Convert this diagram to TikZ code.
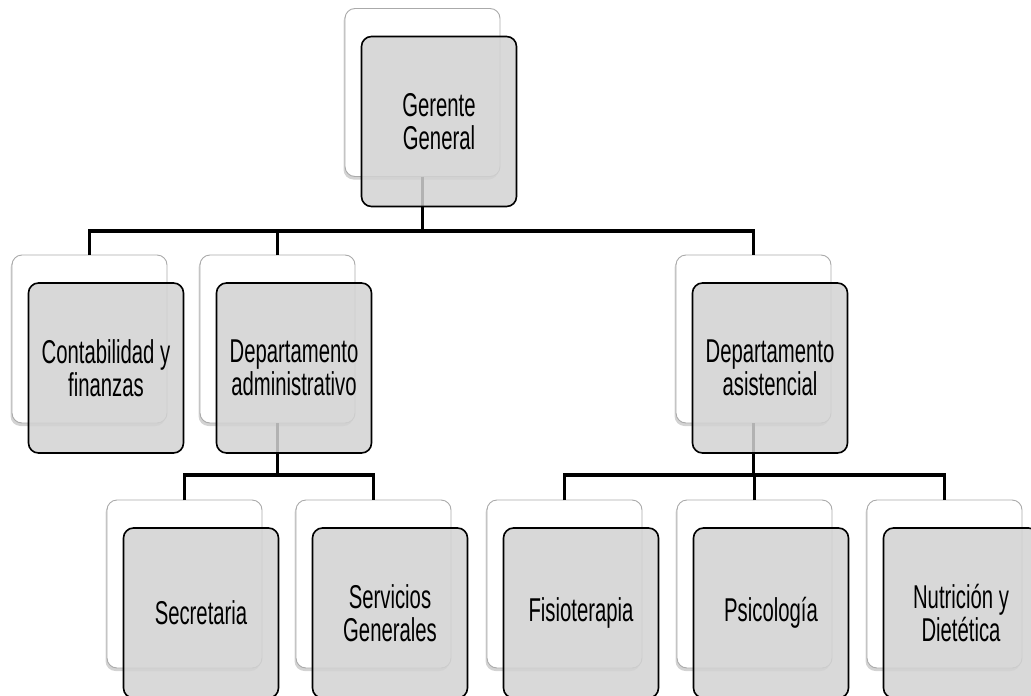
\documentclass[tikz,border=0pt]{standalone}
\usepackage{fontspec}
\setmainfont[FakeStretch=0.615]{Liberation Sans}
\usetikzlibrary{shadows}
\definecolor{frontgray}{RGB}{210,210,210}
\definecolor{backedge}{RGB}{170,170,170}
\tikzset{
  backbox/.style={rectangle, rounded corners=10pt, draw=backedge, line width=0.9pt,
    fill=white, minimum width=155pt, minimum height=168pt, inner sep=0pt, outer sep=0pt,
    drop shadow={opacity=0.35, shadow xshift=-1.5pt, shadow yshift=-3pt}},
  frontbox/.style={rectangle, rounded corners=10pt, draw=black, line width=1.6pt,
    fill=frontgray, fill opacity=0.85, text opacity=1, minimum width=155pt, minimum height=170pt,
    inner sep=0pt, outer sep=0pt, align=center,
    font=\fontsize{33pt}{32.5pt}\selectfont},
  conn/.style={draw=black, line width=3.6pt, line join=miter}
}
\begin{document}
\begin{tikzpicture}[x=1pt,y=-1pt]
\useasboundingbox (0,0) rectangle (1031,696);
% back boxes
\node[backbox] (gb) at (422.5,92.5) {};
\node[backbox] (cb) at (89.5,339) {};
\node[backbox] (ab) at (277.5,339) {};
\node[backbox] (sb) at (753.5,339) {};
\node[backbox] (secb) at (184.5,584) {};
\node[backbox] (serb) at (373.5,584) {};
\node[backbox] (fisb) at (564.5,584) {};
\node[backbox] (psib) at (754.5,584) {};
\node[backbox] (nutb) at (944.5,584) {};
% bus levels
\coordinate (bus1) at (0,231);
\coordinate (bus2) at (0,475);
% connectors
\draw[conn] (gb.south) -- (gb.south |- bus1);
\draw[conn] (cb.north) |- (sb.north |- bus1) -- (sb.north);
\draw[conn] (ab.north) -- (ab.north |- bus1);
\draw[conn] (ab.south) -- (ab.south |- bus2);
\draw[conn] (secb.north) |- (serb.north |- bus2) -- (serb.north);
\draw[conn] (sb.south) -- (sb.south |- bus2);
\draw[conn] (fisb.north) |- (nutb.north |- bus2) -- (nutb.north);
\draw[conn] (psib.north) -- (psib.north |- bus2);
% front boxes
\node[frontbox] (gf) at ([shift={(16.5,29)}]gb.center) {Gerente\\General};
\node[frontbox] (cf) at ([shift={(16.5,29)}]cb.center) {Contabilidad y\\finanzas};
\node[frontbox] (af) at ([shift={(16.5,29)}]ab.center) {Departamento\\administrativo};
\node[frontbox] (sf) at ([shift={(16.5,29)}]sb.center) {Departamento\\asistencial};
\node[frontbox] (secf) at ([shift={(16.5,29)}]secb.center) {Secretaria};
\node[frontbox] (serf) at ([shift={(16.5,29)}]serb.center) {Servicios\\Generales};
\node[frontbox] (fisf) at ([shift={(16.5,29)}]fisb.center) {Fisioterapia};
\node[frontbox] (psif) at ([shift={(16.5,29)}]psib.center) {Psicología};
\node[frontbox] (nutf) at ([shift={(16.5,29)}]nutb.center) {Nutrición y\\Dietética};
\end{tikzpicture}
\end{document}
